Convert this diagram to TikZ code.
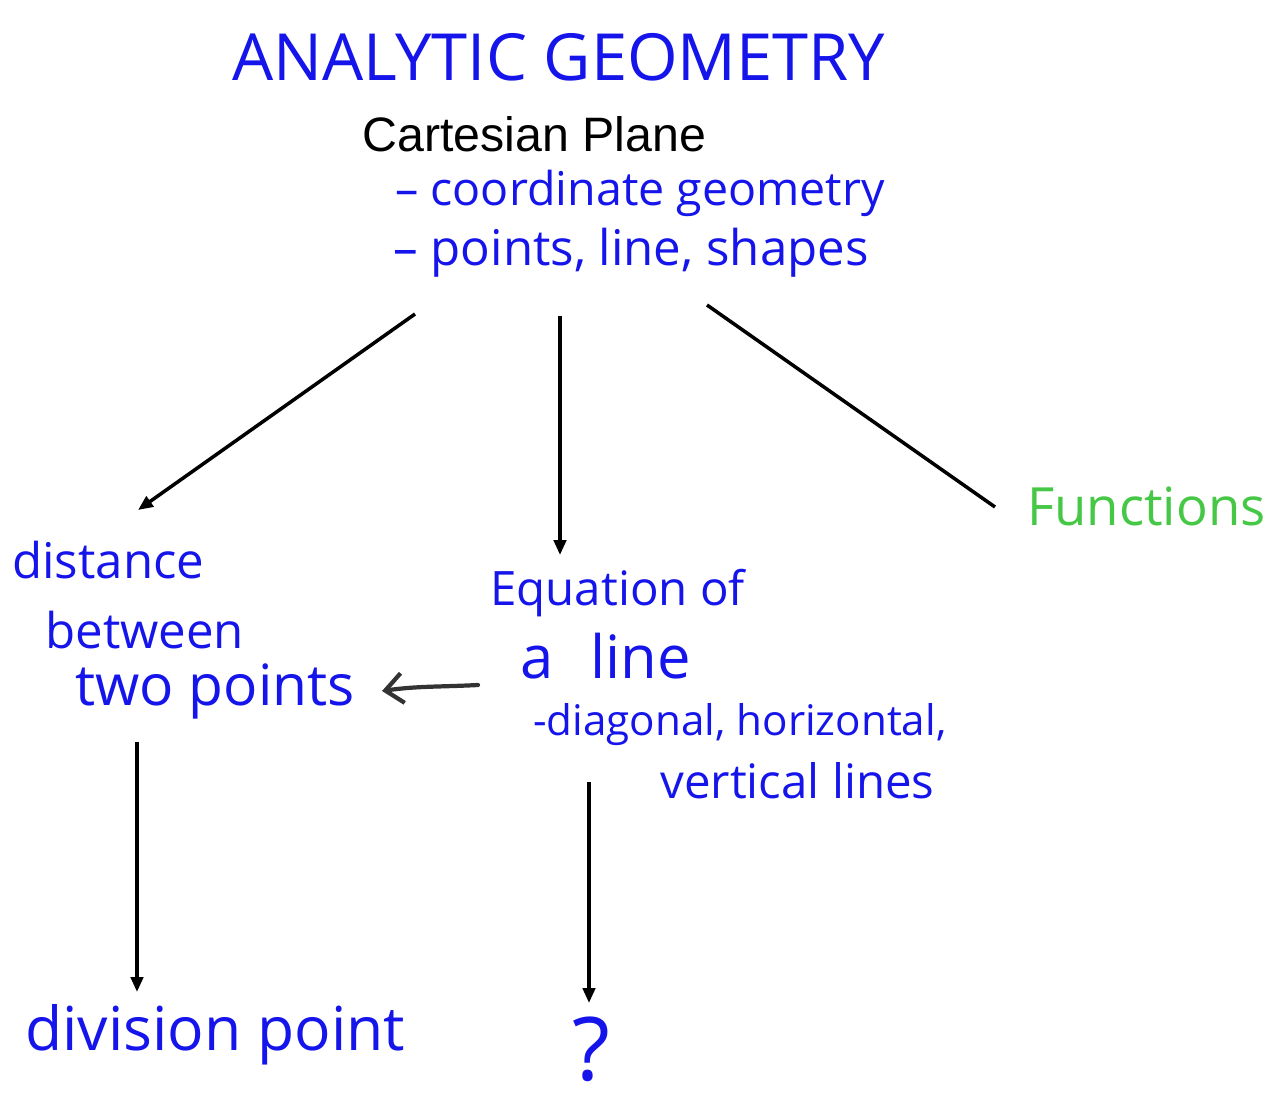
\documentclass[tikz,border=0pt]{standalone}
\usepackage{fontspec}
\setmainfont{Liberation Sans}
\newfontfamily\hand{Open Sans}
\usetikzlibrary{arrows.meta,calc}
\definecolor{ink}{RGB}{20,20,235}
\definecolor{inkgreen}{RGB}{70,200,70}
\begin{document}
\begin{tikzpicture}[x=0.02cm, y=-0.02cm,
        hand/.style={font=\hand\fontsize{#1}{#1}\selectfont, text=ink, inner sep=0pt, anchor=base west},
        arr/.style={line width=2pt, -{Triangle[length=8.5pt,width=7pt]}},
        pen/.style={line width=2.4pt, black!80, line cap=round, -{Straight Barb[length=10pt,width=17pt]}}]
    \useasboundingbox (0,0) rectangle (1276,1100);
    % ── heading ─────────────────────────────────────
    \node[hand=37] (title) at (232,80) {ANALYTIC GEOMETRY};
    \node[font=\fontsize{27.5}{30}\selectfont, inner sep=0pt, anchor=base west] (cart) at (362,151) {Cartesian Plane};
    \node[hand=26.5] (coord) at (395,205) {– coordinate geometry};
    \node[hand=28] (pts) at (393,265) {– points, line, shapes};
    % ── branches ────────────────────────────────────
    \node[hand=30, text=inkgreen] (func) at (1027,525) {Functions};
    \node[hand=28] (dist) at (12,578) {distance};
    \node[hand=28] (betw) at (45,648) {between};
    \node[hand=32.4] (twop) at (75,705) {two points};
    \node[hand=27] (eqn) at (490,605) {Equation of};
    \node[hand=34] (aline) at (520,678) {a\hspace{12pt} line};
    \node[hand=24] (diag) at (533,735) {-diagonal, horizontal,};
    \node[hand=27] (vert) at (660,798) {vertical lines};
    % ── bottom row ──────────────────────────────────
    \node[hand=34.5] (divp) at (25,1050) {division point};
    \node[hand=50] (ques) at (572,1080) {?};
    % ── connectors ──────────────────────────────────
    \draw[arr] ($(pts.base west)+(22,49)$) -- ($(dist.base west)+(126,-68)$);
    \draw[arr] ($(pts.base west)+(167,51)$) -- ($(eqn.base west)+(70,-50)$);
    \draw[line width=2pt] ($(pts.base west)+(314,40)$) -- ($(func.base west)+(-32,-18)$);
    \draw[pen] ($(aline.base west)+(-42,7)$) .. controls +(-40,2) and +(35,-5) .. ($(twop.base west)+(307,-14)$);
    \draw[arr] ($(twop.base west)+(62,37)$) -- ($(divp.base west)+(112,-58)$);
    \draw[arr] ($(diag.base west)+(56,47)$) -- ($(ques.base west)+(17,-77)$);
\end{tikzpicture}
\end{document}
